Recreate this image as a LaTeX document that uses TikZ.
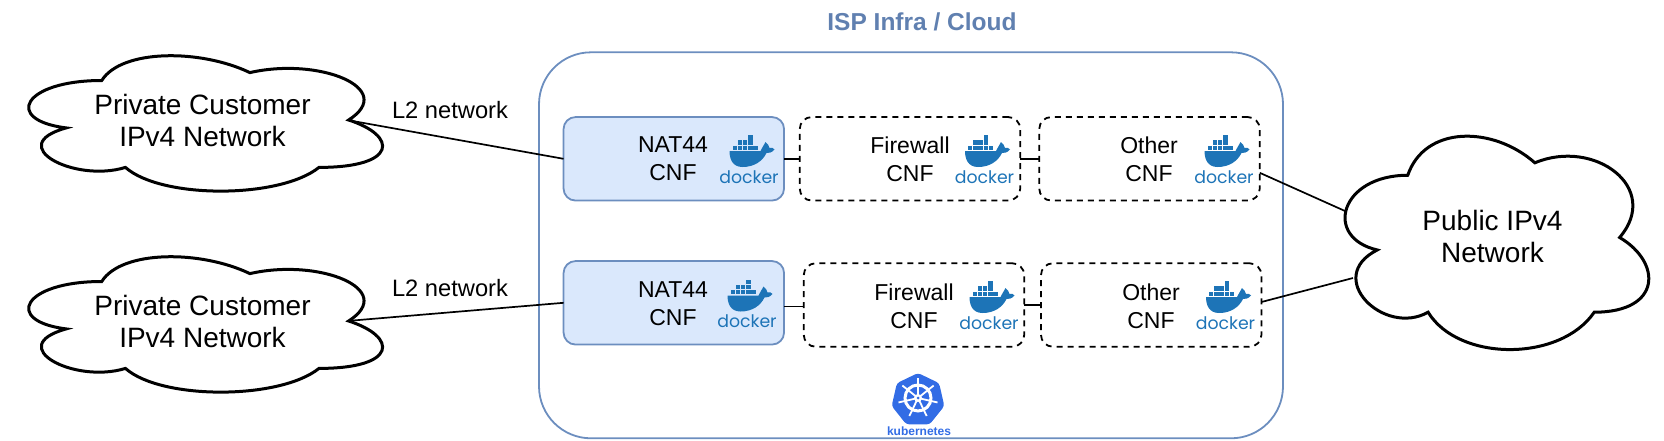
\documentclass[tikz,border=0pt]{standalone}
\usepackage{fontspec}
\setmainfont{Liberation Sans}
\newfontfamily\dockerfont{Poppins}
\usetikzlibrary{positioning}
\definecolor{boxblue}{HTML}{DAE8FC}
\definecolor{linkblue}{HTML}{6C8EBF}
\definecolor{titleblue}{HTML}{6080B0}
\definecolor{dockerblue}{HTML}{1D74B7}
\definecolor{kubeblue}{HTML}{326CE5}
\tikzstyle{cnf}=[rounded corners=12pt,minimum width=220.5pt,minimum height=83.5pt,
                 inner sep=0,outer sep=0]
\tikzstyle{nat}=[cnf,draw=linkblue,fill=boxblue,line width=1.8pt]
\tikzstyle{opt}=[cnf,draw=black,dash pattern=on 6pt off 5pt,line width=1.8pt]
\tikzstyle{lbl}=[align=center,inner sep=0]
\tikzstyle{bigtext}=[lbl,font=\fontsize{28}{32.4}\selectfont]
\tikzstyle{midtext}=[lbl,font=\fontsize{23}{28}\selectfont]
\tikzstyle{link}=[draw=black,line width=1.7pt]
\tikzstyle{netcloud}=[draw=black,fill=white,line width=3pt,miter limit=10]
\tikzset{
  % w and h are the outer box of the cloud
  pics/cloudshape/.style 2 args={code={
    \def\w{#1}\def\h{#2}
    \draw[netcloud] ({.25*\w},{.25*\h})
      .. controls ({.05*\w},{.25*\h}) and (0,{.5*\h}) .. ({.16*\w},{.55*\h})
      .. controls (0,{.66*\h}) and ({.18*\w},{.9*\h}) .. ({.31*\w},{.8*\h})
      .. controls ({.4*\w},\h) and ({.7*\w},\h) .. ({.8*\w},{.8*\h})
      .. controls (\w,{.8*\h}) and (\w,{.6*\h}) .. ({.875*\w},{.5*\h})
      .. controls (\w,{.3*\h}) and ({.8*\w},{.1*\h}) .. ({.625*\w},{.2*\h})
      .. controls ({.5*\w},{.05*\h}) and ({.3*\w},{.05*\h}) .. ({.25*\w},{.25*\h}) -- cycle;
  }},
  pics/dockerlogo/.style={code={
    \fill[dockerblue] (0,0) -- (31,0) .. controls (33,-4) and (35,-7) .. (36,-9)
      .. controls (38,-7) and (40,-5) .. (40,-3) .. controls (42,-4) and (44,-3) .. (45,-1.5)
      .. controls (42,2) and (39,2) .. (37,2) .. controls (33,10) and (25,16) .. (13,16)
      .. controls (3,16) and (0,8) .. (0,0) -- cycle;
    \foreach \s in {0,...,4} \fill[dockerblue] (3+\s*5.2,-5.5) rectangle +(4.4,4.4);
    \foreach \s in {1,...,3} \fill[dockerblue] (3+\s*5.2,-10.7) rectangle +(4.4,4.4);
    \fill[dockerblue] (3+3*5.2,-15.9) rectangle +(4.4,4.4);
    \node[anchor=base,inner sep=0,text=dockerblue,font=\dockerfont\fontsize{17.3}{17.3}\selectfont]
      (-logo) at (19.5,32) {docker};
  }}
}
\begin{document}
\begin{tikzpicture}[x=1pt,y=-1pt]
\useasboundingbox (0,0) rectangle (1664,440);

\node[rounded corners=52pt,draw=linkblue,line width=1.8pt,minimum width=744pt,minimum height=386pt,
      inner sep=0] at (911,245.3) (infra) {};
\node[lbl,text=titleblue,font=\bfseries\fontsize{24.5}{27}\selectfont] at (922,21.5) (title) {ISP Infra / Cloud};

% clouds
\pic at (3,41) {cloudshape={395}{158}};
\pic at (3,242) {cloudshape={395}{158}};
\pic at (1323,113) {cloudshape={339}{249}};
\node[bigtext] at (202.5,120.5) (priv1) {Private Customer\\IPv4 Network};
\node[bigtext] at (202.5,321.5) (priv2) {Private Customer\\IPv4 Network};
\node[bigtext] at (1492.5,236.3) (pub) {Public IPv4\\Network};
\coordinate (priv1out) at (347,120);
\coordinate (priv2out) at (347,321);
\coordinate (pubin1) at (1345,211);
\coordinate (pubin2) at (1353,278);

% first row
\node[nat] at (673.8,158.8) (nat1) {};
\node[opt,right = 15.7pt of nat1] (fw1) {};
\node[opt,right = 19pt of fw1] (oth1) {};
% second row
\node[nat] at (673.8,302.8) (nat2) {};
\node[opt,right = 19.7pt of nat2,yshift=-2.2pt] (fw2) {};
\node[opt,right = 16.7pt of fw2] (oth2) {};

\node[midtext] at (673,159) (nat1txt) {NAT44\\CNF};
\node[midtext] at (673,303.4) (nat2txt) {NAT44\\CNF};
\node[midtext] at (910,159.5) (fw1txt) {Firewall\\CNF};
\node[midtext] at (914,305.8) (fw2txt) {Firewall\\CNF};
\node[midtext] at (1149,159.5) (oth1txt) {Other\\CNF};
\node[midtext] at (1151,305.8) (oth2txt) {Other\\CNF};

\pic (dock1) at (729.5,151) {dockerlogo};
\pic (dock2) at (965,151) {dockerlogo};
\pic (dock3) at (1204.5,151) {dockerlogo};
\pic (dock4) at (727.5,295.5) {dockerlogo};
\pic (dock5) at (969.5,297) {dockerlogo};
\pic (dock6) at (1206,297) {dockerlogo};

% kubernetes
\def \kx {918}
\def \ky {400}
\fill[kubeblue,rounded corners=3pt] (\kx,\ky-27)
  \foreach \s in {1,...,6} { -- ({\kx+27*sin(360/7*\s)},{\ky-27*cos(360/7*\s)}) } -- cycle;
\draw[white,line width=3pt] (\kx,\ky-2) circle (13);
\foreach \s in {0,...,6}
  \draw[white,line width=1.8pt] (\kx,\ky-2) -- ({\kx+20*sin(360/7*\s)},{\ky-2-20*cos(360/7*\s)});
\fill[white] (\kx,\ky-2) circle (4);
\fill[kubeblue] (\kx,\ky-2) circle (1.5);
\node[inner sep=0,anchor=base,text=kubeblue,font=\bfseries\fontsize{12}{12}\selectfont] at (919,435) (kube) {kubernetes};

% links
\coordinate (nat2out) at ([yshift=-3.7pt]nat2.east);
\coordinate (oth1out) at ([yshift=-14pt]oth1.east);
\coordinate (oth2out) at ([yshift=3pt]oth2.east);
\draw[link] (priv1out) -- (nat1.west);
\draw[link] (priv2out) -- (nat2.west);
\draw[link] (nat1.east) -- (fw1.west);
\draw[link] (fw1.east) -- (oth1.west);
\draw[link] (nat2out) -- (nat2out -| fw2.west);
\draw[link] (fw2.east) -- (oth2.west);
\draw[link] (oth1out) -- (pubin1);
\draw[link] (oth2out) -- (pubin2);

\node[lbl,font=\fontsize{23.7}{28}\selectfont] at (450,110) (l2a) {L2 network};
\node[lbl,font=\fontsize{23.7}{28}\selectfont] at (450,288) (l2b) {L2 network};
\end{tikzpicture}
\end{document}
